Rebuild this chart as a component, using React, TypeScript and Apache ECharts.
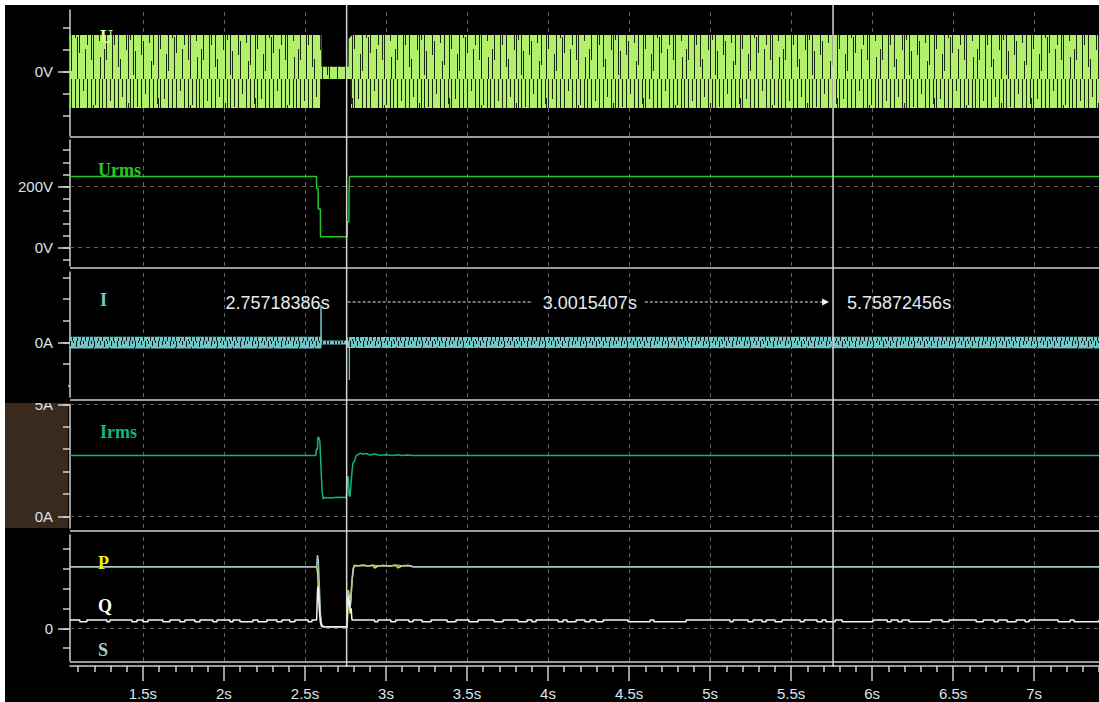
import React, { useEffect, useRef } from 'react';
import * as echarts from 'echarts';

// ---------- axis ranges & ticks ----------
const X_MIN = 1.05;
const X_MAX = 7.4;
const majorTicks = [1.5, 2, 2.5, 3, 3.5, 4, 4.5, 5, 5.5, 6, 6.5, 7];
const minorTicks: number[] = [];
for (let i = 11; i <= 74; i++) if (i % 5 !== 0) minorTicks.push(i / 10);

const cursorA = 2.75718386;
const cursorB = 5.75872456;

// y ranges / ticks per panel
const uRange = [-581.8, 563.6];
const uLabels = [0];
const uTicks = [-400, -200, 0, 200, 400];

const urmsRange = [-60, 353];
const urmsLabels = [0, 200];
const urmsTicks = [-40, 0, 40, 80, 120, 160, 200, 240, 280, 320];

const iRange = [-25.1, 32.5];
const iLabels = [0];
const iTicks = [-20, -10, 0, 10, 20, 30];

const irmsRange = [-0.5, 5];
const irmsLabels = [0, 5];
const irmsTicks = [0, 1, 2, 3, 4, 5];

const pqsRange = [-328, 936];
const pqsLabels = [0];
const pqsTicks = [-200, 0, 200, 400, 600, 800];

// ---------- data ----------
// U (V): envelope of the sampled waveform
const uUpper = [[1.05, 336], [2.601, 336], [2.602, 48], [2.769, 48], [2.770, 300], [2.79, 336], [7.4, 336]];
const uLower = [[1.05, -327], [2.593, -327], [2.594, -64], [2.783, -64], [2.784, -327], [7.4, -327]];

// Urms (V)
const urmsData = [
  [1.05, 233], [2.571, 233], [2.572, 194], [2.581, 194], [2.582, 127], [2.595, 127], [2.596, 36],
  [2.761, 36], [2.762, 85], [2.771, 85], [2.772, 184], [2.774, 184], [2.775, 233], [7.4, 233],
];

// I (A): envelope + spikes
const iUpper = [[1.05, 2.7], [2.600, 2.7], [2.603, 0.9], [2.757, 0.9], [2.762, 2.5], [7.4, 2.7]];
const iLower = [[1.05, -2.7], [2.600, -2.7], [2.603, -0.9], [2.757, -0.9], [2.762, -2.5], [7.4, -2.7]];
const iSpikeUp = [[2.598, 0], [2.599, 17.3], [2.600, 0]];
const iSpikeDown = [[2.773, 0], [2.774, -17.3], [2.775, 0]];

// Irms (A)
const irmsData = [
  [1.05, 2.72], [2.568, 2.72], [2.570, 2.99], [2.577, 2.99], [2.579, 3.52], [2.586, 3.52], [2.592, 3.34],
  [2.600, 2.0], [2.606, 1.11], [2.612, 0.78], [2.62, 0.85], [2.66, 0.83], [2.70, 0.86], [2.755, 0.85],
  [2.763, 1.78], [2.768, 1.78], [2.772, 0.95], [2.778, 0.89], [2.790, 2.0], [2.796, 2.39], [2.804, 2.45],
  [2.815, 2.70], [2.84, 2.82], [2.86, 2.78], [2.88, 2.81], [2.90, 2.74], [2.93, 2.79], [2.96, 2.73],
  [3.00, 2.76], [3.04, 2.72], [3.07, 2.75], [3.10, 2.72], [3.13, 2.74], [3.167, 2.72], [7.4, 2.72],
];

// S, P, Q
const sData = [
  [1.05, 618], [2.572, 618], [2.577, 735], [2.582, 690], [2.588, 450], [2.596, 120], [2.603, 35],
  [2.612, 18], [2.70, 16], [2.757, 16], [2.762, 200], [2.766, 384], [2.771, 300], [2.777, 200],
  [2.783, 260], [2.790, 470], [2.797, 600], [2.805, 630], [2.83, 628], [2.86, 633], [2.89, 626],
  [2.92, 632], [2.95, 625], [2.98, 631], [3.02, 626], [3.06, 632], [3.10, 627], [3.14, 630],
  [3.167, 618], [7.4, 618],
];
const pData = [
  [1.05, 618], [2.572, 618], [2.578, 560], [2.583, 380], [2.590, 250], [2.597, 90], [2.604, 30],
  [2.612, 18], [2.757, 14], [2.760, 0], [2.764, 150], [2.768, 384], [2.773, 330], [2.780, 250],
  [2.786, 380], [2.792, 500], [2.800, 605], [2.805, 630], [2.83, 628], [2.86, 633], [2.89, 626],
  [2.92, 632], [2.93, 605], [2.95, 625], [2.98, 631], [3.02, 626], [3.06, 632], [3.075, 606],
  [3.10, 627], [3.14, 630], [3.167, 618], [7.4, 618],
];
const qBase = 83;
const qDip = 66;
const qEvent = [
  [2.572, 83], [2.575, 250], [2.579, 420], [2.583, 380], [2.588, 200], [2.595, 60], [2.602, 20],
  [2.612, 16], [2.757, 16], [2.761, 120], [2.765, 320], [2.770, 230], [2.775, 280], [2.779, 150],
  [2.785, 200], [2.790, 83],
];
const qNotchStart = [
  1.111, 1.278, 1.432, 1.5, 1.623, 1.728, 1.821, 1.932, 2.037, 2.099, 2.21, 2.327, 2.407, 2.519,
  2.93, 3.03, 3.142, 3.222, 3.377, 3.512, 3.667, 3.815, 3.901, 4.062, 4.117, 4.228, 4.296, 4.494,
  4.654, 5.123, 5.235, 5.321, 5.401, 5.556, 5.66, 5.716, 5.815, 6.093, 6.16, 6.228, 6.432, 6.642,
  6.753, 6.833, 6.944, 7.148, 7.247,
];
const qNotchEnd = [
  1.154, 1.296, 1.463, 1.531, 1.667, 1.759, 1.852, 1.957, 2.056, 2.179, 2.265, 2.358, 2.438, 2.543,
  2.95, 3.06, 3.167, 3.278, 3.432, 3.568, 3.722, 3.87, 3.926, 4.093, 4.173, 4.259, 4.34, 4.63,
  4.852, 5.142, 5.265, 5.346, 5.444, 5.58, 5.691, 5.772, 6.006, 6.117, 6.185, 6.364, 6.475, 6.685,
  6.778, 6.889, 6.969, 7.222, 7.4,
];

function buildQ() {
  const pts: number[][] = [[X_MIN, qBase]];
  const notches = qNotchStart.map((s, i) => [s, qNotchEnd[i]]);
  const before = notches.filter((n) => n[1] < qEvent[0][0]);
  const after = notches.filter((n) => n[0] > qEvent[qEvent.length - 1][0]);
  for (const [s, e] of before) pts.push([s, qBase], [s, qDip], [e, qDip], [e, qBase]);
  for (const p of qEvent) pts.push(p);
  for (const [s, e] of after) pts.push([s, qBase], [s, qDip], [e, qDip], [e, qBase]);
  pts.push([X_MAX, pts[pts.length - 1][1]]);
  return pts;
}

// ---------- styling ----------
const GRIDS = [
  { top: 5, height: 126 },
  { top: 135, height: 126 },
  { top: 267, height: 125 },
  { top: 399.3, height: 123.6 },
  { top: 530, height: 126 },
];
const DIVIDERS = [132, 263, 395, 526, 657];

const AXIS_COLOR = '#cfcfcf';
const LABEL_COLOR = '#dbe4ee';
const GRID_DASH = '#626262';
const SANS = '"Liberation Sans", Arial, sans-serif';
const SERIF = '"Liberation Serif", "DejaVu Serif", serif';

// texture tiles (aliasing striations of the dense waveform traces): [x, depth-from-top] / [x, height-from-bottom]
const uTileTop = [
  [0, 30], [4, 55], [8, 22], [12, 40], [16, 62], [20, 18], [24, 45], [28, 35], [31, 70], [35, 28], [39, 50],
  [43, 15], [47, 38], [51, 60], [55, 25], [58, 44], [62, 20], [66, 66], [70, 33], [74, 48], [78, 12],
  [82, 40], [86, 55], [90, 26], [94, 36],
];
const uTileBottom = [
  [2, 30], [10, 45], [18, 20], [26, 50], [33, 28], [41, 38], [49, 18], [56, 55], [64, 25], [72, 42],
  [80, 30], [88, 48], [95, 22],
];
const iTileTop = [[1, 5], [4, 3], [7, 6], [10, 2], [13, 4], [17, 6], [20, 3], [24, 5], [27, 2], [30, 6], [34, 4], [37, 3]];
const iTileBottom = [[2, 4], [6, 6], [11, 3], [15, 5], [19, 2], [22, 6], [26, 4], [31, 3], [35, 5], [39, 4]];

function makeTile(w: number, h: number, dark: string, top: number[][], bottom: number[][]) {
  const rects = [
    ...top.map(([x, d]) => `<rect x='${x}' y='0' width='1' height='${d}'/>`),
    ...bottom.map(([x, d]) => `<rect x='${x}' y='${h - d}' width='1' height='${d}'/>`),
  ].join('');
  const svg = `<svg xmlns='http://www.w3.org/2000/svg' width='${w}' height='${h}'><g fill='${dark}'>${rects}</g></svg>`;
  return { w, h, url: 'data:image/svg+xml;charset=utf-8,' + encodeURIComponent(svg) };
}
const uTile = makeTile(97, 74, '#1c2912', uTileTop, uTileBottom);
const iTile = makeTile(41, 12, '#0a1616', iTileTop, iTileBottom);

function mainY(gi: number, range: number[], labels: number[], unit: string) {
  return {
    type: 'value', gridIndex: gi, position: 'left', min: range[0], max: range[1],
    axisLine: { show: true, onZero: false, lineStyle: { color: AXIS_COLOR, width: 1.5 } },
    axisTick: { show: true, customValues: labels, length: 12, lineStyle: { color: AXIS_COLOR, width: 1.5 } },
    axisLabel: {
      show: true, customValues: labels, margin: 17, color: LABEL_COLOR, fontSize: 15, fontFamily: SANS,
      formatter: (v: number) => `${v}${unit}`,
    },
    splitLine: { show: false },
  };
}
function minorY(gi: number, range: number[], ticks: number[]) {
  return {
    type: 'value', gridIndex: gi, position: 'left', min: range[0], max: range[1],
    axisLine: { show: false, onZero: false },
    axisTick: { show: true, customValues: ticks, length: 7, lineStyle: { color: AXIS_COLOR, width: 1.5 } },
    axisLabel: { show: false },
    splitLine: { show: false },
  };
}
function hiddenX(gi: number) {
  return {
    type: 'value', gridIndex: gi, position: 'bottom', min: X_MIN, max: X_MAX,
    axisLine: { show: false, onZero: false }, axisTick: { show: false }, axisLabel: { show: false }, splitLine: { show: false },
  };
}
function gridLines(gi: number, hLines: number[]) {
  return {
    type: 'line', xAxisIndex: gi, yAxisIndex: gi * 2, data: [], z: 1, silent: true, color: GRID_DASH,
    markLine: {
      silent: true, z: 1, symbol: ['none', 'none'], label: { show: false },
      lineStyle: { color: GRID_DASH, type: [4, 4], width: 1 },
      emphasis: { disabled: true },
      data: [...majorTicks.map((v) => ({ xAxis: v })), ...hLines.map((v) => ({ yAxis: v }))],
    },
  };
}
function band(gi: number, upper: number[][], lower: number[][], color: string, tile: any) {
  const topVal = Math.max(...upper.map((p) => p[1]));
  return {
    type: 'custom', xAxisIndex: gi, yAxisIndex: gi * 2, z: 2, silent: true, clip: true,
    data: [[upper[0][0], 0]],
    renderItem: (_p: any, api: any) => {
      const pts = [...upper.map((p) => api.coord(p)), ...lower.slice().reverse().map((p) => api.coord(p))];
      const top = api.coord([upper[0][0], topVal])[1];
      return {
        type: 'group',
        children: [
          { type: 'polygon', shape: { points: pts }, style: { fill: color } },
          {
            type: 'polygon', shape: { points: pts },
            style: { fill: { image: tile.url, repeat: 'repeat', imageWidth: tile.w, imageHeight: tile.h, x: 0, y: top } },
          },
        ],
      };
    },
  };
}
function lineS(gi: number, data: number[][], color: string, z = 3, width = 1.5) {
  return {
    type: 'line', xAxisIndex: gi, yAxisIndex: gi * 2, data, z, silent: true, color,
    symbol: 'none', showSymbol: false, lineStyle: { color, width }, clip: true,
  };
}

function panelLabel(id: string, text: string, x: number, y: number, fill: string) {
  return {
    type: 'text', id, x, y, z: 60, silent: true,
    style: { text, fill, font: `bold 18px ${SERIF}`, align: 'left', verticalAlign: 'middle' },
  };
}

function buildOption() {
  const xAxis: any[] = [0, 1, 2, 3].map(hiddenX);
  xAxis.push({
    type: 'value', gridIndex: 4, position: 'bottom', min: X_MIN, max: X_MAX, offset: 5,
    axisLine: { show: true, onZero: false, lineStyle: { color: AXIS_COLOR, width: 1.5 } },
    axisTick: { show: true, customValues: majorTicks, length: 15, lineStyle: { color: AXIS_COLOR, width: 1.5 } },
    axisLabel: {
      show: true, customValues: majorTicks, margin: 20, color: LABEL_COLOR, fontSize: 15, fontFamily: SANS,
      formatter: (v: number) => `${v}s`,
    },
    splitLine: { show: false },
  });
  xAxis.push({
    type: 'value', gridIndex: 4, position: 'bottom', min: X_MIN, max: X_MAX, offset: 5,
    axisLine: { show: false, onZero: false },
    axisTick: { show: true, customValues: minorTicks, length: 6, lineStyle: { color: AXIS_COLOR, width: 1.5 } },
    axisLabel: { show: false }, splitLine: { show: false },
  });

  const yAxis = [
    mainY(0, uRange, uLabels, 'V'), minorY(0, uRange, uTicks),
    mainY(1, urmsRange, urmsLabels, 'V'), minorY(1, urmsRange, urmsTicks),
    mainY(2, iRange, iLabels, 'A'), minorY(2, iRange, iTicks),
    mainY(3, irmsRange, irmsLabels, 'A'), minorY(3, irmsRange, irmsTicks),
    mainY(4, pqsRange, pqsLabels, ''), minorY(4, pqsRange, pqsTicks),
  ];

  const staticGraphics: any[] = [
    { type: 'rect', id: 'brown', z: -10, silent: true, shape: { x: 0, y: 398, width: 63, height: 125 }, style: { fill: '#3a2a1e' } },
    { type: 'rect', id: 'cover', z: 100, silent: true, shape: { x: 0, y: 380, width: 63, height: 18 }, style: { fill: '#000' } },
    ...DIVIDERS.map((y, i) => ({
      type: 'line', id: `div${i}`, z: 40, silent: true,
      shape: { x1: 65, y1: y, x2: 1094, y2: y }, style: { stroke: AXIS_COLOR, lineWidth: 1.5 },
    })),
    panelLabel('lU', 'U', 95, 32, '#d2ff98'),
    panelLabel('lUrms', 'Urms', 93, 165, '#22cc22'),
    panelLabel('lI', 'I', 95, 295, '#72c9c9'),
    panelLabel('lIrms', 'Irms', 95, 427, '#16b580'),
    panelLabel('lP', 'P', 93, 558, '#f2ee00'),
    panelLabel('lQ', 'Q', 93, 601, '#ffffff'),
    panelLabel('lS', 'S', 93, 645, '#a8cccc'),
  ];

  return {
    animation: false,
    backgroundColor: '#000',
    grid: GRIDS.map((g) => ({ left: 65, right: 0, top: g.top, height: g.height, containLabel: false })),
    xAxis,
    yAxis,
    graphic: { elements: staticGraphics },
    series: [
      gridLines(0, []),
      gridLines(1, [0, 200]),
      gridLines(2, []),
      gridLines(3, [0, 5]),
      gridLines(4, [0]),
      band(0, uUpper, uLower, '#b2f06c', uTile),
      lineS(1, urmsData, '#22c822'),
      band(2, iUpper, iLower, '#6fc6c6', iTile),
      lineS(2, iSpikeUp, '#6fc6c6', 3, 1),
      lineS(2, iSpikeDown, '#6fc6c6', 3, 1),
      lineS(3, irmsData, '#14b27e'),
      lineS(4, pData, '#f0ec00', 3),
      lineS(4, sData, '#a4c4c4', 4),
      lineS(4, buildQ(), '#f4f4f4', 5),
    ],
  };
}

export default function App() {
  const ref = useRef<HTMLDivElement>(null);
  useEffect(() => {
    document.body.style.margin = '0';
    const chart = echarts.init(ref.current!, null, { renderer: 'svg' });
    chart.setOption(buildOption() as any);

    const xa = chart.convertToPixel({ xAxisIndex: 0 }, cursorA) as unknown as number;
    const xb = chart.convertToPixel({ xAxisIndex: 0 }, cursorB) as unknown as number;
    const mid = (xa + xb) / 2;
    const yM = 297;
    const textStyle = (text: string, align: string) => ({
      text, fill: '#e2eaf3', font: `18px ${SANS}`, align, verticalAlign: 'middle',
    });
    const dyn: any[] = [
      { type: 'line', id: 'curA', z: 50, silent: true, shape: { x1: xa, y1: 0, x2: xa, y2: 662 }, style: { stroke: '#d6d6d6', lineWidth: 1.5 } },
      { type: 'line', id: 'curB', z: 50, silent: true, shape: { x1: xb, y1: 0, x2: xb, y2: 662 }, style: { stroke: '#d6d6d6', lineWidth: 1.5 } },
      { type: 'text', id: 'tA', z: 60, silent: true, x: xa - 17, y: yM + 1, style: textStyle(`${cursorA}s`, 'right') },
      { type: 'text', id: 'tB', z: 60, silent: true, x: xb + 14, y: yM + 1, style: textStyle(`${cursorB}s`, 'left') },
      { type: 'text', id: 'tD', z: 60, silent: true, x: mid, y: yM + 1, style: textStyle(`${(cursorB - cursorA).toFixed(7)}s`, 'center') },
      { type: 'line', id: 'dash1', z: 55, silent: true, shape: { x1: xa + 1, y1: yM, x2: mid - 57, y2: yM }, style: { stroke: '#e8e8e8', lineWidth: 1, lineDash: [3, 2] } },
      { type: 'line', id: 'dash2', z: 55, silent: true, shape: { x1: mid + 55, y1: yM, x2: xb - 10, y2: yM }, style: { stroke: '#e8e8e8', lineWidth: 1, lineDash: [3, 2] } },
      { type: 'polygon', id: 'arrow', z: 55, silent: true, shape: { points: [[xb - 11, yM - 3.5], [xb - 4, yM], [xb - 11, yM + 3.5]] }, style: { fill: '#f0f0f0' } },
    ];
    chart.setOption({ graphic: { elements: dyn } } as any);
    return () => chart.dispose();
  }, []);
  return (
    <div style={{ width: 1099, height: 702, background: '#fff', position: 'relative' }}>
      <div ref={ref} style={{ position: 'absolute', left: 5, top: 5, width: 1094, height: 697, background: '#000' }} />
    </div>
  );
}
